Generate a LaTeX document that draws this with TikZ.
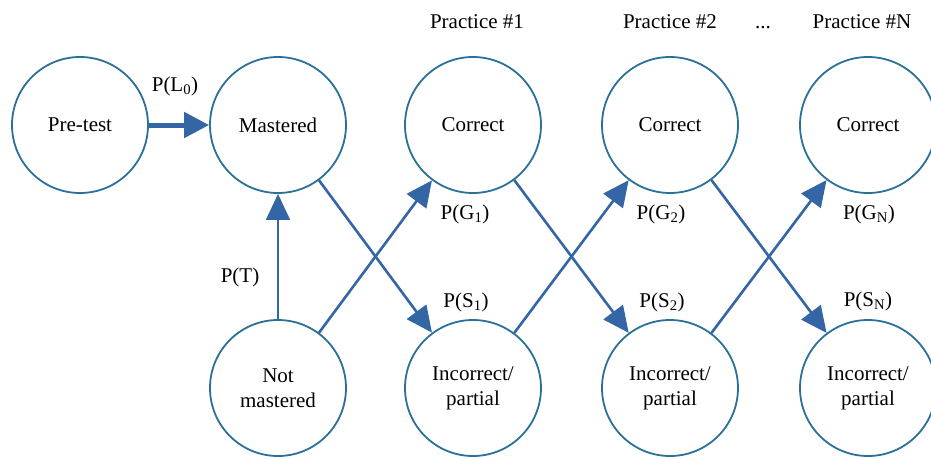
\documentclass[tikz,border=0pt]{standalone}
\usepackage{fontspec}
\setmainfont{Liberation Serif}
\usetikzlibrary{arrows.meta,positioning}
\definecolor{ringblue}{RGB}{42,112,152}
\definecolor{arrowblue}{RGB}{52,101,164}

\begin{document}
\begin{tikzpicture}[x=1pt, y=-1pt, every node/.style={font=\fontsize{21}{25}\selectfont},
  state/.style={draw=ringblue, line width=1.8pt, circle, minimum size=136pt, inner sep=0pt, align=center},
  trans/.style={draw=arrowblue, line width=2.6pt, -{Triangle[length=26pt, width=24pt]}},
  lbl/.style={inner sep=1pt}]
\useasboundingbox (0,0) rectangle (931,459);
% top row
\node[state] (pretest) at (80,125) {Pre-test};
\node[state] (mastered) at (278,125) {Mastered};
\node[state] (corr1) at (473,125) {Correct};
\node[state] (corr2) at (670,125) {Correct};
\node[state] (corrN) at (868,125) {Correct};
% bottom row
\node[state] (notm) at (278,388) {Not\\mastered};
\node[state] (inc1) at (473,388) {Incorrect/\\partial};
\node[state] (inc2) at (670,388) {Incorrect/\\partial};
\node[state] (incN) at (868,388) {Incorrect/\\partial};
% headings
\node[anchor=base] (prac1) at (477,28) {Practice \#1};
\node[anchor=base] (prac2) at (670,28) {Practice \#2};
\node[anchor=base] (dots) at (763,28) {...};
\node[anchor=base] (pracN) at (862,28) {Practice \#N};
% transitions
\draw[trans, line width=5pt, -{Triangle[length=25pt, width=25pt]}] (pretest) -- (mastered);
\draw[trans, line width=1.6pt] (notm) -- (mastered);
\draw[trans] (mastered) -- (inc1);
\draw[trans] (notm) -- (corr1);
\draw[trans] (corr1) -- (inc2);
\draw[trans] (inc1) -- (corr2);
\draw[trans] (corr2) -- (incN);
\draw[trans] (inc2) -- (corrN);
% probabilities
\node[lbl] (pl0) at (175,86) {P(L\textsubscript{0})};
\node[lbl] (pt) at (240,277) {P(T)};
\node[lbl] (pg1) at (465,214) {P(G\textsubscript{1})};
\node[lbl] (ps1) at (466,302) {P(S\textsubscript{1})};
\node[lbl] (pg2) at (661,214) {P(G\textsubscript{2})};
\node[lbl] (ps2) at (662,302) {P(S\textsubscript{2})};
\node[lbl] (pgN) at (869,214) {P(G\textsubscript{N})};
\node[lbl] (psN) at (868,301) {P(S\textsubscript{N})};
\end{tikzpicture}
\end{document}
